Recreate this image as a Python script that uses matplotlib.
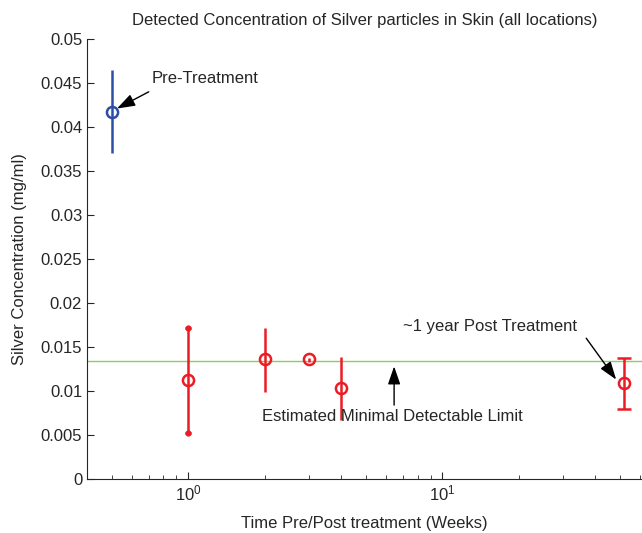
import matplotlib.pyplot as plt
from matplotlib.ticker import FuncFormatter, LogLocator

plt.rcParams['font.family'] = ['Liberation Sans', 'DejaVu Sans']
plt.rcParams['font.size'] = 12
plt.rcParams['text.color'] = '#262626'
plt.rcParams['axes.labelcolor'] = '#262626'
plt.rcParams['xtick.color'] = '#262626'
plt.rcParams['ytick.color'] = '#262626'

# data (weeks, mg/ml)
pre_week = [0.5]
pre_conc = [0.0417]
pre_low = [0.0370]
pre_high = [0.0465]

post_weeks = [1, 2, 3, 4, 52]
post_conc = [0.0112, 0.0136, 0.0136, 0.0103, 0.0109]
post_low = [0.0052, 0.0099, 0.0133, 0.0067, 0.0079]
post_high = [0.0172, 0.0172, 0.0138, 0.0139, 0.0137]
post_caps = [2, 0, 0, 0, 5]

detect_limit = 0.0134

blue = '#2c4ea6'
red = '#ec1c24'
green = '#86cf63'

fig = plt.figure(figsize=(6.42, 5.33), dpi=100)
ax = fig.add_axes([0.1355, 0.1013, 0.864, 0.8255])

ax.axhline(detect_limit, color=green, lw=1.0, zorder=1)

ax.errorbar(pre_week, pre_conc,
            yerr=[[pre_conc[0] - pre_low[0]], [pre_high[0] - pre_conc[0]]],
            fmt='o', color=blue, mfc='none', mec=blue, ms=8, mew=1.8,
            elinewidth=1.8, capsize=0, zorder=3)

for i in range(len(post_weeks)):
    ax.errorbar([post_weeks[i]], [post_conc[i]],
                yerr=[[post_conc[i] - post_low[i]], [post_high[i] - post_conc[i]]],
                fmt='o', color=red, mfc='none', mec=red, ms=8, mew=1.8,
                elinewidth=1.8, capsize=post_caps[i], capthick=1.8, zorder=3)
# dot-like caps on the first post point
ax.plot([1, 1], [post_low[0], post_high[0]], 'o', color=red, ms=3.5, zorder=3)

ax.set_xscale('log')
ax.set_xlim(0.4, 61)
ax.set_ylim(0, 0.05)
ax.set_yticks([i * 0.005 for i in range(11)])
ax.yaxis.set_major_formatter(FuncFormatter(lambda v, p: '%g' % round(v, 4)))
ax.xaxis.set_major_locator(LogLocator(base=10, numticks=10))
ax.xaxis.set_minor_locator(LogLocator(base=10, subs=range(2, 10), numticks=20))

for s in ['top', 'right']:
    ax.spines[s].set_visible(False)
for s in ['left', 'bottom']:
    ax.spines[s].set_color('#262626')
ax.tick_params(which='both', direction='in', top=False, right=False)
ax.tick_params(which='major', length=5)
ax.tick_params(which='minor', length=3)

ax.set_title('Detected Concentration of Silver particles in Skin (all locations)', fontsize=12, pad=10)
ax.set_xlabel('Time Pre/Post treatment (Weeks)', labelpad=9)
ax.set_ylabel('Silver Concentration (mg/ml)', labelpad=10)

arrow = dict(arrowstyle='-|>,head_length=1.1,head_width=0.38', color='black', lw=1.0,
             mutation_scale=10, shrinkA=0, shrinkB=0)

ax.text(0.72, 0.0455, 'Pre-Treatment', ha='left', va='center')
ax.annotate('', xy=(0.525, 0.0421), xytext=(0.70, 0.0440), arrowprops=arrow)

ax.text(34.0, 0.01735, '~1 year Post Treatment', ha='right', va='center')
ax.annotate('', xy=(48.4, 0.0113), xytext=(36.9, 0.0160), arrowprops=arrow)

ax.text(6.36, 0.0071, 'Estimated Minimal Detectable Limit', ha='center', va='center')
ax.annotate('', xy=(6.47, 0.0128), xytext=(6.47, 0.0084), arrowprops=arrow)

fig.savefig('out.png', dpi=100)
